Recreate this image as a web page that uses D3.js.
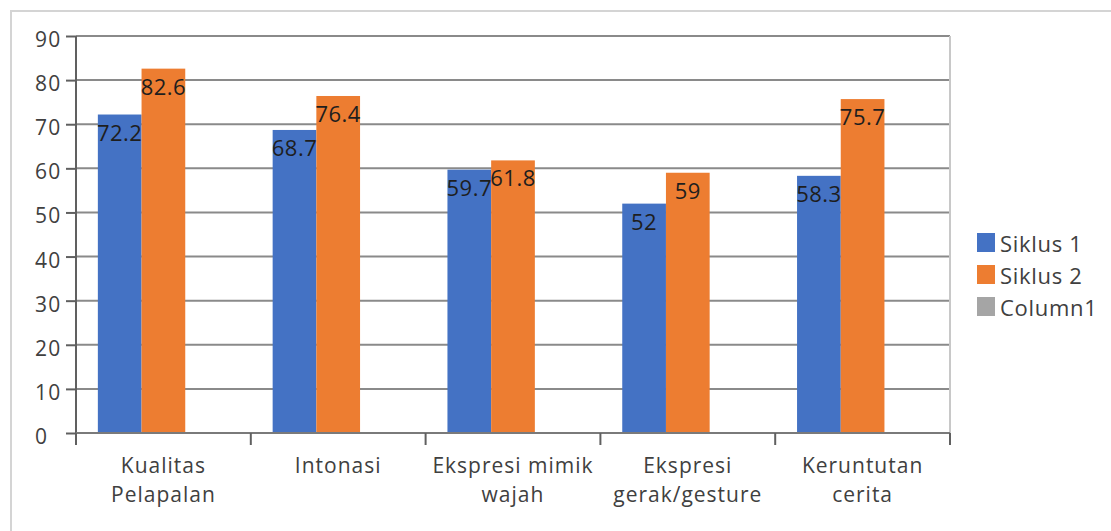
<!DOCTYPE html>
<html><head><meta charset="utf-8">
<script src="https://cdn.jsdelivr.net/npm/d3@7"></script>
<style>
html,body{margin:0;padding:0;background:#fff;}
svg{display:block;font-family:"Open Sans",sans-serif;}
</style></head>
<body>
<script>
const categories = ["Kualitas Pelapalan","Intonasi","Ekspresi mimik wajah","Ekspresi gerak/gesture","Keruntutan cerita"];
const categoryLines = [["Kualitas","Pelapalan"],["Intonasi"],["Ekspresi mimik","wajah"],["Ekspresi","gerak/gesture"],["Keruntutan","cerita"]];
const seriesNames = ["Siklus 1","Siklus 2","Column1"];
const siklus1 = [72.2, 68.7, 59.7, 52, 58.3];
const siklus2 = [82.6, 76.4, 61.8, 59, 75.7];
const column1 = [null, null, null, null, null];
const yTicks = [0,10,20,30,40,50,60,70,80,90];
const colors = ["#4472C4","#ED7D31","#A5A5A5"];

(function(){
const W = 1111, H = 531;
const svg = d3.select("body").append("svg").attr("width", W).attr("height", H);

// outer frame
svg.append("path").attr("d","M11,531 L11,11 L1111,11").attr("fill","none").attr("stroke","#d4d4d4").attr("stroke-width",2);

const pLeft = 76, pRight = 950, pTop = 36, pBottom = 433;
const x = d3.scaleBand().domain(categories).range([pLeft, pRight]).paddingInner(0).paddingOuter(0);
const xs = d3.scaleBand().domain(seriesNames).range([0, x.bandwidth()]).paddingInner(0).paddingOuter(0.5);
const y = d3.scaleLinear().domain([0, 90]).range([pBottom, pTop]);

// gridlines
svg.append("g").selectAll("line").data(yTicks.filter(d => d > 0)).join("line")
  .attr("x1", pLeft).attr("x2", pRight).attr("y1", d => y(d)).attr("y2", d => y(d))
  .attr("stroke", "#8a8a8a").attr("stroke-width", 2);
// right border of plot
svg.append("line").attr("x1", pRight).attr("x2", pRight).attr("y1", pTop).attr("y2", pBottom)
  .attr("stroke","#c8c8c8").attr("stroke-width",2);

// bars
const series = [siklus1, siklus2, column1];
series.forEach((vals, si) => {
  const data = categories.map((c, i) => ({c, v: vals[i]})).filter(d => d.v != null);
  svg.append("g").selectAll("rect").data(data).join("rect")
    .attr("x", d => x(d.c) + xs(seriesNames[si]))
    .attr("width", xs.bandwidth())
    .attr("y", d => y(d.v))
    .attr("height", d => y(0) - y(d.v))
    .attr("fill", colors[si]);
});
series.forEach((vals, si) => {
  const data = categories.map((c, i) => ({c, v: vals[i]})).filter(d => d.v != null);
  svg.append("g").selectAll("text").data(data).join("text")
    .attr("x", d => x(d.c) + xs(seriesNames[si]) + xs.bandwidth()/2)
    .attr("y", d => y(d.v) + 26)
    .attr("text-anchor","middle")
    .attr("font-size", 22)
    .attr("letter-spacing", 0.5)
    .attr("fill", "#1e1e1e")
    .text(d => d.v);
});

// y axis
const yAxis = d3.axisLeft(y).tickValues(yTicks).tickSize(10).tickSizeOuter(0);
const ya = svg.append("g").attr("transform", `translate(${pLeft},0)`).call(yAxis);
ya.select(".domain").remove();
ya.selectAll(".tick line").attr("stroke","#606060").attr("stroke-width",2);
ya.selectAll(".tick text").attr("x", 35 - pLeft).attr("text-anchor","start").attr("dy", null)
  .attr("y", 10.5).attr("font-size", 21).attr("letter-spacing", 1.2)
  .attr("font-family","Open Sans, sans-serif").attr("fill","#404040");
svg.append("line").attr("x1", pLeft).attr("x2", pLeft).attr("y1", pTop).attr("y2", pBottom + 12)
  .attr("stroke","#606060").attr("stroke-width",2);

// x axis
svg.append("line").attr("x1", pLeft).attr("x2", pRight).attr("y1", pBottom).attr("y2", pBottom)
  .attr("stroke","#7a7a7a").attr("stroke-width",2);
const bounds = categories.map(c => x(c)).concat([pRight]);
svg.append("g").selectAll("line").data(bounds).join("line")
  .attr("x1", d => d).attr("x2", d => d).attr("y1", pBottom).attr("y2", pBottom + 12)
  .attr("stroke","#606060").attr("stroke-width",2);

const xl = svg.append("g");
categories.forEach((c, i) => {
  const t = xl.append("text").attr("text-anchor","middle").attr("font-size", 21)
    .attr("letter-spacing", 1).attr("fill","#404040");
  categoryLines[i].forEach((ln, j) => {
    t.append("tspan").attr("x", x(c) + x.bandwidth()/2).attr("y", 473 + j*29).text(ln);
  });
});

// legend
const lg = svg.append("g").attr("transform","translate(977,233)");
seriesNames.forEach((s, i) => {
  const g = lg.append("g").attr("transform", `translate(0,${i*32})`);
  g.append("rect").attr("width", 18).attr("height", 19).attr("fill", colors[i]);
  g.append("text").attr("x", 23).attr("y", 19).attr("font-size", 22).attr("letter-spacing", 0.7)
    .attr("fill","#404040").text(s);
});
})();
</script>
</body></html>
